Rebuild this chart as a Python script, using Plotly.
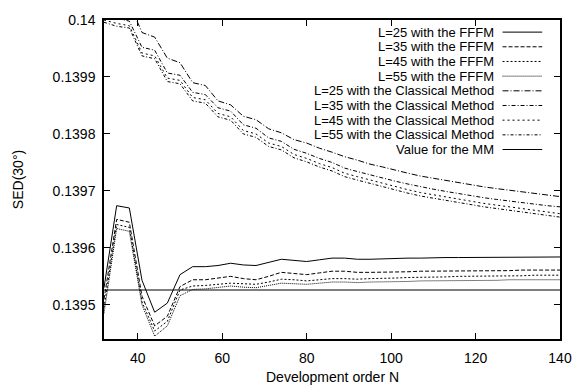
import plotly.graph_objects as go

N = list(range(32, 141, 3))

fffm_l25 = [0.13953, 0.139674, 0.13967, 0.139543, 0.139487, 0.139503, 0.139553, 0.139567, 0.139567,
            0.139569, 0.139573, 0.13957, 0.139569, 0.139574, 0.13958, 0.139578, 0.139576, 0.139579,
            0.139582, 0.139582, 0.13958, 0.13958, 0.139581, 0.139582, 0.139582, 0.139582, 0.139583,
            0.139583, 0.139583, 0.139583, 0.139583, 0.139583, 0.139584, 0.139584, 0.139584, 0.139584,
            0.139584]
fffm_l35 = [0.13951, 0.13965, 0.139645, 0.139515, 0.139463, 0.13948, 0.139532, 0.139544, 0.139544,
            0.139547, 0.13955, 0.139546, 0.139544, 0.13955, 0.139557, 0.139555, 0.139553, 0.139556,
            0.139559, 0.139559, 0.139557, 0.139557, 0.139557, 0.139558, 0.139558, 0.139559, 0.139559,
            0.139559, 0.13956, 0.13956, 0.13956, 0.13956, 0.13956, 0.139561, 0.139561, 0.139561,
            0.139561]
fffm_l45 = [0.139495, 0.139641, 0.139636, 0.139505, 0.139454, 0.139471, 0.139526, 0.139533, 0.139534,
            0.139536, 0.139538, 0.139537, 0.139536, 0.13954, 0.139545, 0.139544, 0.139542, 0.139544,
            0.139546, 0.139546, 0.139545, 0.139546, 0.139546, 0.139547, 0.139548, 0.139548, 0.139549,
            0.139549, 0.13955, 0.13955, 0.13955, 0.139551, 0.139551, 0.139551, 0.139552, 0.139552,
            0.139552]
fffm_l55 = [0.139485, 0.139634, 0.139629, 0.1395, 0.139445, 0.139463, 0.139516, 0.139527, 0.139528,
            0.13953, 0.139533, 0.139531, 0.13953, 0.139534, 0.139538, 0.139537, 0.139536, 0.139538,
            0.13954, 0.13954, 0.139539, 0.13954, 0.13954, 0.139541, 0.139541, 0.139542, 0.139542,
            0.139542, 0.139543, 0.139543, 0.139543, 0.139543, 0.139544, 0.139544, 0.139544, 0.139544,
            0.139544]

cls_l25 = [0.14012, 0.14008, 0.14003, 0.139978, 0.13997, 0.139933, 0.139925, 0.13989, 0.139885,
           0.139858, 0.139851, 0.139831, 0.139825, 0.139809, 0.139802, 0.13979, 0.139784, 0.139775,
           0.139768, 0.13976, 0.139754, 0.139747, 0.139742, 0.139736, 0.139731, 0.139726, 0.139722,
           0.139718, 0.139714, 0.13971, 0.139707, 0.139704, 0.139701, 0.139698, 0.139695, 0.139693,
           0.13969]
cls_l35 = [0.14006, 0.140003, 0.139998, 0.139952, 0.139947, 0.139907, 0.139903, 0.139873, 0.139869,
           0.139846, 0.13984, 0.139816, 0.13981, 0.139793, 0.139787, 0.139773, 0.139766, 0.139757,
           0.13975, 0.13974, 0.139734, 0.139728, 0.139723, 0.139717, 0.139712, 0.139707, 0.139703,
           0.139699, 0.139695, 0.139691, 0.139688, 0.139685, 0.139682, 0.139679, 0.139676, 0.139674,
           0.139672]
cls_l45 = [0.14, 0.139994, 0.13999, 0.139942, 0.139937, 0.139898, 0.139894, 0.139864, 0.13986,
           0.139836, 0.13983, 0.139806, 0.1398, 0.139784, 0.139778, 0.139764, 0.139757, 0.139748,
           0.139741, 0.139731, 0.139725, 0.139719, 0.139713, 0.139707, 0.139702, 0.139697, 0.139693,
           0.139689, 0.139685, 0.139681, 0.139678, 0.139675, 0.139672, 0.139669, 0.139666, 0.139663,
           0.13966]
cls_l55 = [0.139996, 0.139989, 0.139986, 0.139937, 0.139932, 0.139892, 0.139888, 0.139858, 0.139854,
           0.13983, 0.139824, 0.1398, 0.139794, 0.139778, 0.139772, 0.139758, 0.139751, 0.139742,
           0.139735, 0.139725, 0.139719, 0.139713, 0.139707, 0.139701, 0.139696, 0.139691, 0.139687,
           0.139683, 0.139679, 0.139675, 0.139672, 0.139669, 0.139666, 0.139663, 0.13966, 0.139657,
           0.139654]

mm_value = 0.139526

labels = ["L=25 with the FFFM", "L=35 with the FFFM", "L=45 with the FFFM", "L=55 with the FFFM",
          "L=25 with the Classical Method", "L=35 with the Classical Method",
          "L=45 with the Classical Method", "L=55 with the Classical Method", "Value for the MM"]
series = [fffm_l25, fffm_l35, fffm_l45, fffm_l55, cls_l25, cls_l35, cls_l45, cls_l55]
dashes = ["solid", "4px,2px", "2px,2px", "1px,1px", "6px,2px,1px,2px", "4px,2px,1px,2px",
          "2px,3px", "3px,2px,1px,2px", "solid"]

xticks = [40, 60, 80, 100, 120, 140]
yticks = [0.1395, 0.1396, 0.1397, 0.1398, 0.1399, 0.14]
yticktext = ["0.1395", "0.1396", "0.1397", "0.1398", "0.1399", "0.14"]

FONT = "Liberation Sans, Arial, sans-serif"

fig = go.Figure()
for vals, name, d in zip(series, labels, dashes):
    fig.add_trace(go.Scatter(x=N, y=vals, mode="lines", name=name,
                             line=dict(color="black", width=1, dash=d)))
fig.add_trace(go.Scatter(x=[N[0], N[-1]], y=[mm_value, mm_value], mode="lines",
                         name=labels[-1], line=dict(color="black", width=1.2)))

# manual legend (text right-aligned, sample on the right)
row0, step = 0.962, 0.046
for i, (name, d) in enumerate(zip(labels, dashes)):
    yy = row0 - i * step
    fig.add_annotation(x=0.857, y=yy, xref="paper", yref="paper", text=name, showarrow=False,
                       xanchor="right", yanchor="middle", borderpad=0,
                       font=dict(family=FONT, size=13, color="black"))
    fig.add_shape(type="line", xref="paper", yref="paper", x0=0.874, x1=0.961, y0=yy, y1=yy,
                  line=dict(color="black", width=1, dash=d))

# x-axis title placed below tick labels
fig.add_annotation(x=0.5, y=-0.119, xref="paper", yref="paper", text="Development order N",
                   showarrow=False, xanchor="center", yanchor="middle",
                   font=dict(family=FONT, size=14, color="black"))

fig.update_layout(
    width=584, height=387,
    margin=dict(l=104, r=13, t=12, b=48),
    paper_bgcolor="white", plot_bgcolor="white",
    showlegend=False,
    font=dict(family=FONT, size=14, color="black"),
)
fig.update_xaxes(range=[32, 140], tickvals=xticks, ticks="inside", ticklen=6, tickcolor="black",
                 showgrid=False, zeroline=False, showline=True, linecolor="black", linewidth=1.5,
                 mirror="ticks", ticklabelstandoff=5)
fig.update_yaxes(range=[0.13944, 0.14], tickvals=yticks, ticktext=yticktext, ticks="inside",
                 ticklen=6, tickcolor="black", showgrid=False, zeroline=False, showline=True,
                 linecolor="black", linewidth=1.5, mirror="ticks", ticklabelstandoff=4,
                 title=dict(text="SED(30°)", font=dict(family=FONT, size=14), standoff=26))

fig.write_html("out.html")
